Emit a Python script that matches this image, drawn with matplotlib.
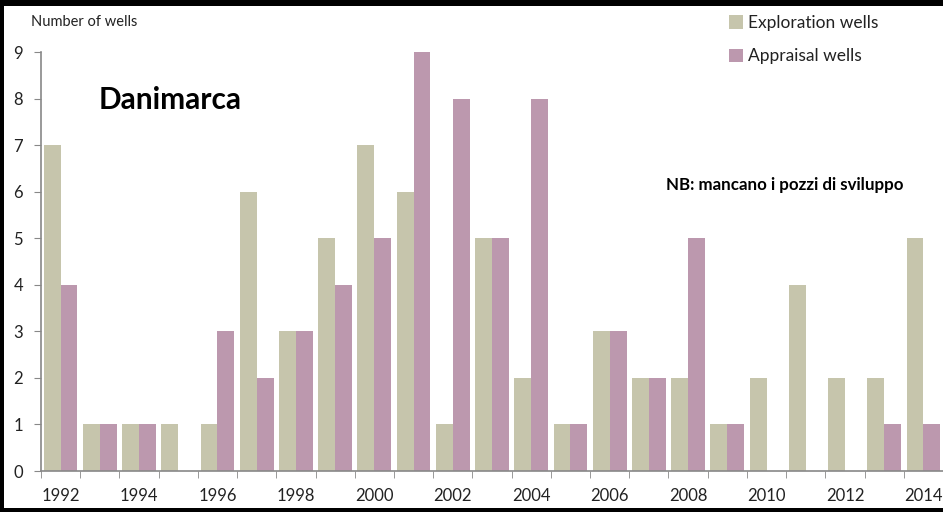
import numpy as np
import matplotlib.pyplot as plt
from matplotlib.patches import Rectangle

years = np.arange(1992, 2015)
exploration = [7, 1, 1, 1, 1, 6, 3, 5, 7, 6, 1, 5, 2, 1, 3, 2, 2, 1, 2, 4, 2, 2, 5]
appraisal = [4, 1, 1, 0, 3, 2, 3, 4, 5, 9, 8, 5, 8, 1, 3, 2, 5, 1, 0, 0, 0, 1, 1]
label_years = np.arange(1992, 2015, 2)

c_expl = '#c6c5ac'
c_appr = '#bc98ae'

plt.rcParams['font.family'] = ['Lato', 'DejaVu Sans']

W, H = 943, 512
fig = plt.figure(figsize=(W / 100, H / 100), dpi=100, facecolor='black')
# white page inside the black frame
fig.patches.append(Rectangle((4 / W, 4 / H), 1, 1 - 10 / H, transform=fig.transFigure,
                             facecolor='white', edgecolor='none', zorder=-5))

ax = fig.add_axes([41 / W, 41 / H, 1 - 41 / W, 419 / H])
ax.set_facecolor('none')

w = 0.43
ax.bar(years - w / 2, exploration, w, color=c_expl, label='Exploration wells')
ax.bar(years + w / 2, appraisal, w, color=c_appr, label='Appraisal wells')

ax.set_xlim(1991.5, 1991.5 + (W - 41) / 39.45)
ax.set_ylim(0, 9)

for s in ['top', 'right']:
    ax.spines[s].set_visible(False)
for s in ['left', 'bottom']:
    ax.spines[s].set_color('#888888')
    ax.spines[s].set_linewidth(1.2)

ax.set_yticks(range(10))
ax.tick_params(axis='y', length=5, color='#888888', labelsize=12, pad=8, labelcolor='#222222')
ax.set_xticks(label_years)
ax.set_xticklabels([str(y) for y in label_years])
ax.set_xticks(np.arange(1991.5, 2015, 1), minor=True)
ax.tick_params(axis='x', which='major', length=0, labelsize=12, pad=12, labelcolor='#222222')
ax.tick_params(axis='x', which='minor', length=5, color='#888888')

fig.text(31 / W, 1 - 22 / H, 'Number of wells', fontsize=10.5, va='center', ha='left', color='#222222')
fig.text(99 / W, 1 - 100 / H, 'Danimarca', fontsize=21.5, fontweight='bold', va='center', ha='left')
fig.text(666 / W, 1 - 185 / H, 'NB: mancano i pozzi di sviluppo', fontsize=12.2, fontweight='bold',
         va='center', ha='left')

leg = fig.legend(loc='upper left', bbox_to_anchor=(722 / W, 1 - 8 / H), frameon=False,
                 fontsize=12.5, handlelength=0.8, handleheight=0.8, handletextpad=0.3,
                 labelspacing=1.0, borderaxespad=0)
for t in leg.get_texts():
    t.set_color('#222222')

fig.savefig('out.png', dpi=100, facecolor=fig.get_facecolor())
